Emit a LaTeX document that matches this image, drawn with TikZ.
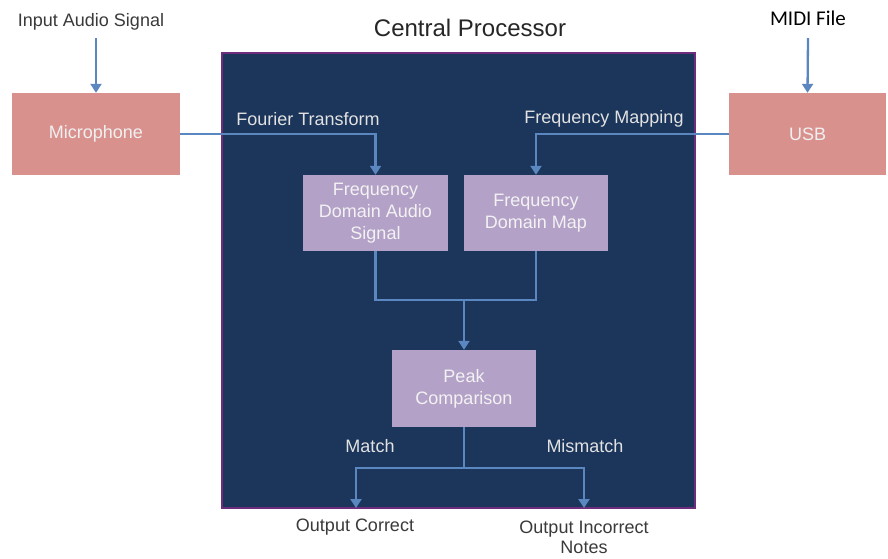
\documentclass[tikz,border=0pt]{standalone}
\usepackage{fontspec}
\setmainfont{Liberation Sans}
\newfontfamily\midifont{Carlito}
\usetikzlibrary{arrows.meta}

\definecolor{cpnavy}{HTML}{1B355B}
\definecolor{cpedge}{HTML}{6E2C7C}
\definecolor{iobox}{HTML}{D9918E}
\definecolor{stagebox}{HTML}{B4A1C8}
\definecolor{flowblue}{HTML}{5B87C1}
\definecolor{darklabel}{HTML}{3A3A3A}
\definecolor{lightlabel}{HTML}{E2E2E2}

\tikzset{
  flow/.style={draw=flowblue, line width=2.3pt},
  flowarrow/.style={flow, -{Triangle[width=11pt,length=9pt]}},
  iounit/.style={fill=iobox, text=white!94!black, minimum width=#1, minimum height=82pt, inner sep=0pt, font=\fontsize{18}{22}\selectfont},
  stage/.style={fill=stagebox, text=white!95!black, minimum width=#1, inner sep=0pt, align=center, font=\fontsize{18}{22}\selectfont},
  outlabel/.style={text=darklabel, font=\fontsize{18}{20}\selectfont, align=center},
  inlabel/.style={text=lightlabel, font=\fontsize{18}{20}\selectfont}
}

\begin{document}
\begin{tikzpicture}[x=1pt,y=-1pt]
			%%%%% START %%%%%
			\useasboundingbox[fill=white] (0,0) rectangle (888,558);
			
			% central processor
			\node[fill=cpnavy, draw=cpedge, line width=1.5pt, minimum width=473pt, minimum height=455pt, inner sep=0pt] (cp) at (458.5,280.5) {};
			\node[text=black!85, font=\fontsize{24}{28}\selectfont] (cptitle) at (470,28) {Central Processor};
			
			% inputs
			\node[outlabel] (audioin) at (91,22) {Input Audio Signal};
			\node[text=black, font=\midifont\fontsize{21}{24}\selectfont] (midiin) at (808,18) {MIDI File};
			\node[iounit=168pt] (mic) at (96,134) {Microphone};
			\node[iounit=157pt] (usb) at (807.5,134) {USB};
			\coordinate (audiotail) at (96,38);
			\coordinate (miditail) at (808,38);
			\draw[flowarrow] (audiotail) -- (mic.north);
			\draw[flowarrow] (miditail) -- (usb.north);
			
			% frequency domain
			\node[stage=145pt, minimum height=76pt] (fdaudio) at (375.5,213) {Frequency\\Domain Audio\\Signal};
			\node[stage=144pt, minimum height=76pt] (fdmap) at (536,213) {Frequency\\Domain Map};
			\draw[flowarrow] (mic.east) -| (fdaudio.north);
			\draw[flowarrow] (usb.west) -| (fdmap.north);
			\node[inlabel] (fourier) at (308,119) {Fourier Transform};
			\node[inlabel] (mapping) at (604,119) {Frequency Mapping};
			
			% comparison
			\node[stage=144pt, minimum height=77pt] (peak) at (464,388.5) {Peak\\Comparison};
			\coordinate (merge) at (464,300);
			\draw[flow] (fdaudio.south) |- (merge) -| (fdmap.south);
			\draw[flowarrow] (merge) -- (peak.north);
			
			% outputs
			\coordinate (split) at (464,468);
			\coordinate (okend) at (356,508);
			\coordinate (badend) at (584,508);
			\draw[flow] (peak.south) -- (split);
			\draw[flowarrow] (split) -| (okend);
			\draw[flowarrow] (split) -| (badend);
			\node[inlabel] (match) at (370,446) {Match};
			\node[inlabel] (mismatch) at (585,446) {Mismatch};
			\node[outlabel] (okout) at (355,527) {Output Correct};
			\node[outlabel] (badout) at (584,537) {Output Incorrect\\Notes};
			%%%%% END %%%%%
\end{tikzpicture}
\end{document}
